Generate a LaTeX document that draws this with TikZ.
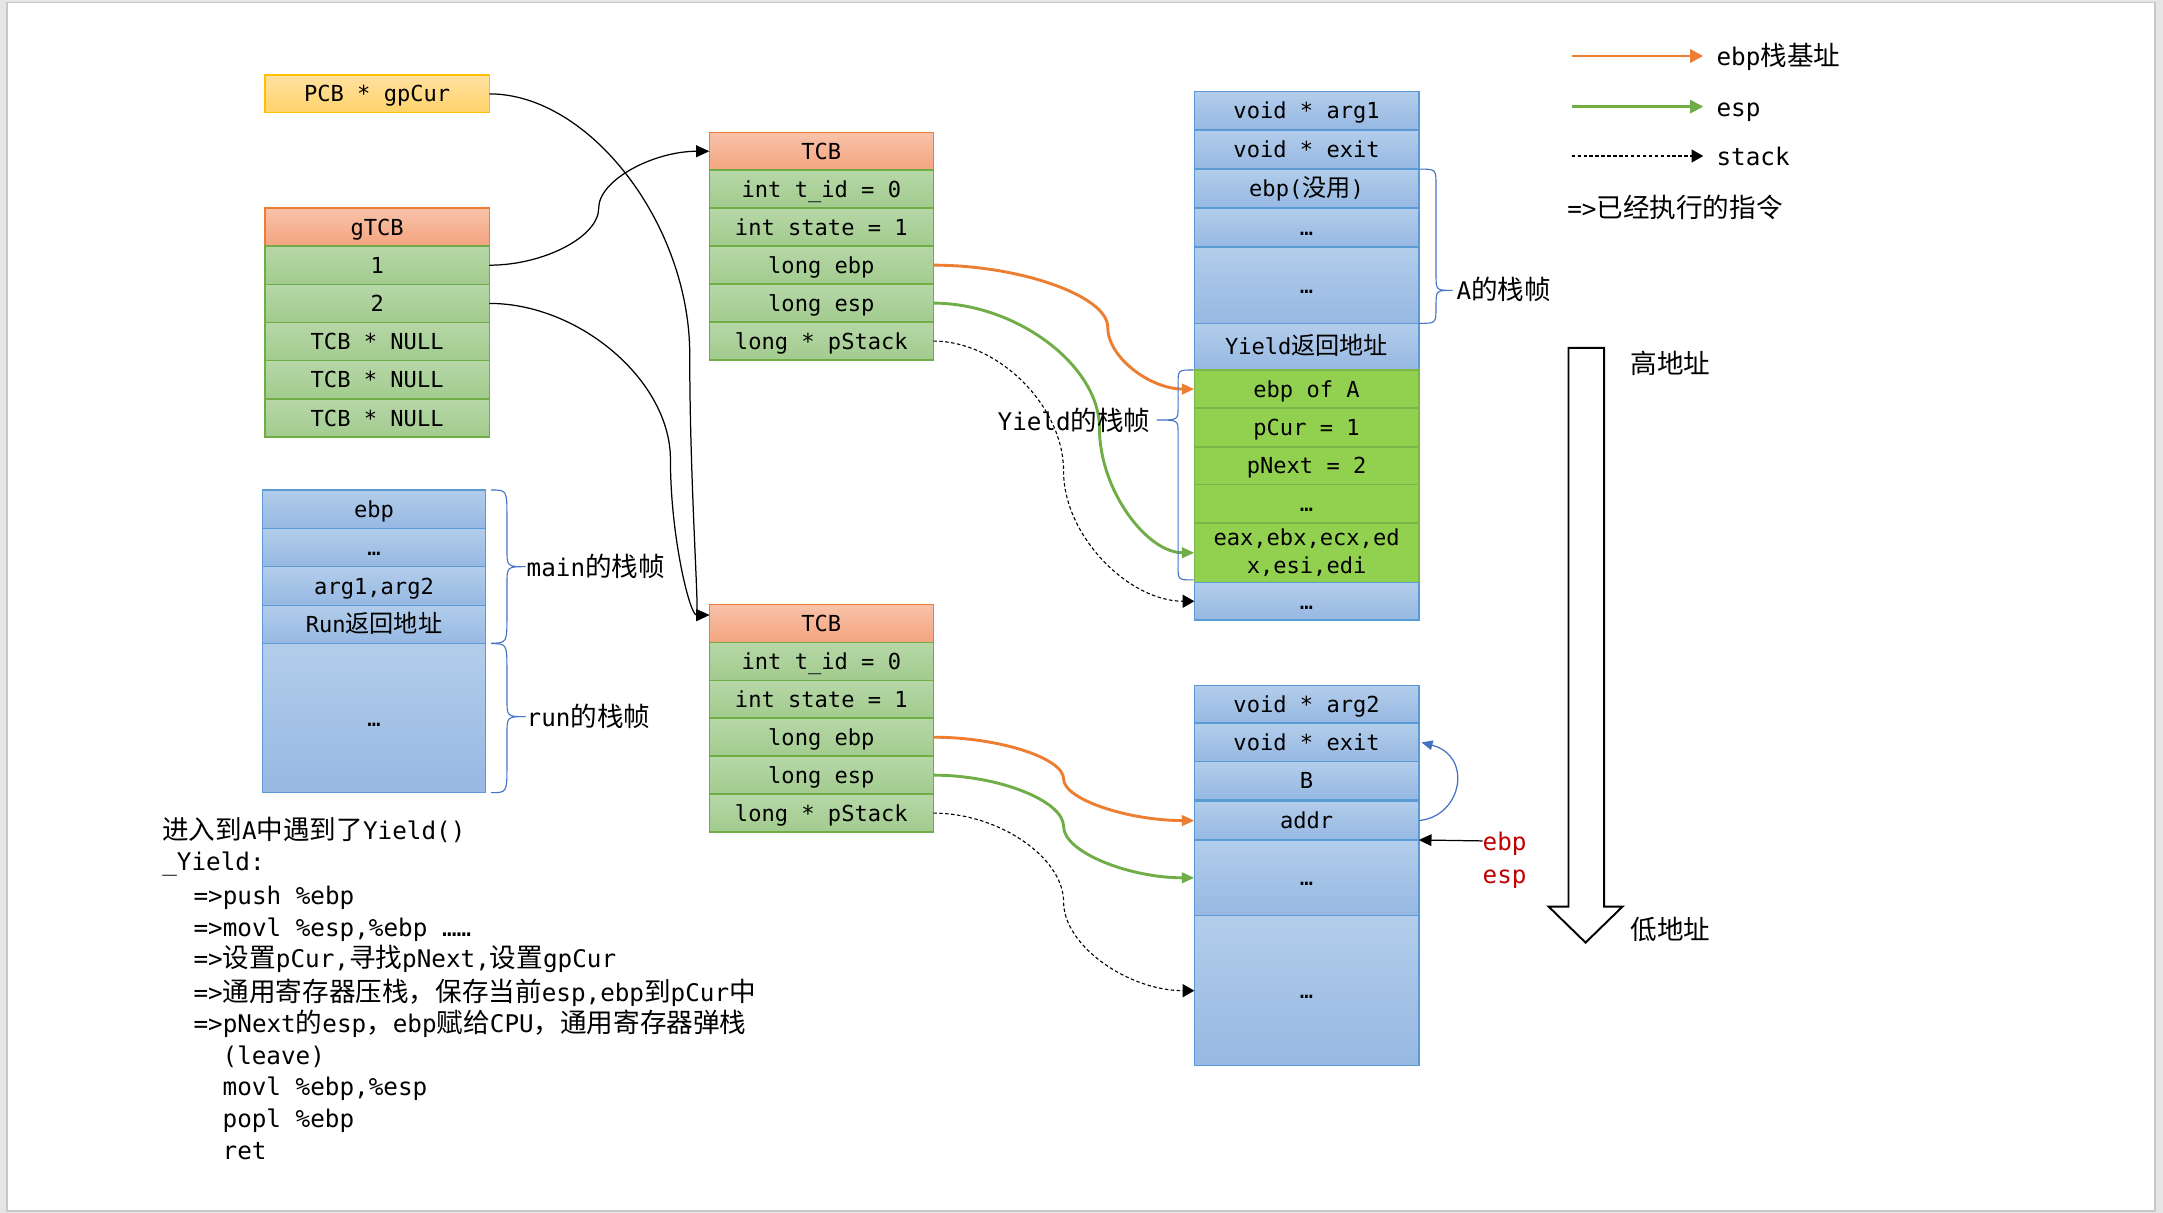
\documentclass[tikz,border=0pt]{standalone}
\usepackage{fontspec}
\setmainfont{DejaVu Sans Mono}
\newfontfamily\cjk[Scale=1.095]{Noto Sans CJK SC}
\newcommand\zh[1]{{\cjk #1}}
\usetikzlibrary{arrows.meta}
\definecolor{pageg}{HTML}{E6E6E6}
\definecolor{pageb}{HTML}{C8C8C8}
\definecolor{bluet}{HTML}{B3CDEB}
\definecolor{blueb}{HTML}{96B8E2}
\definecolor{bluel}{HTML}{5B9BD5}
\definecolor{greent}{HTML}{B6D7A7}
\definecolor{greenb}{HTML}{A2CB8E}
\definecolor{greenl}{HTML}{70AD47}
\definecolor{salt}{HTML}{F8C3AA}
\definecolor{salb}{HTML}{F4A47F}
\definecolor{sall}{HTML}{ED7D31}
\definecolor{yelt}{HTML}{FFE0A0}
\definecolor{yelb}{HTML}{FFD36B}
\definecolor{yell}{HTML}{FFC000}
\definecolor{brightg}{HTML}{92D050}
\definecolor{brightl}{HTML}{7AB648}
\definecolor{orangec}{HTML}{ED7D31}
\definecolor{greenc}{HTML}{70AD47}
\definecolor{bracec}{HTML}{4472C4}
\definecolor{redt}{HTML}{C00000}
\newcommand\mybrace[8]{\draw[bracepath] (#1,#4) .. controls (#2,#4) .. (#2,#4+#7) -- (#2,#5-#8) .. controls (#2,#5) .. (#3,#5) .. controls (#2,#5) .. (#2,#5+#8) -- (#2,#6-#7) .. controls (#2,#6) .. (#1,#6);}
\tikzset{
 boxfont/.style={font=\fontsize{16}{20.7}\selectfont},
 lblfont/.style={font=\fontsize{17.6}{23}\selectfont},
 cellbase/.style={boxfont, inner sep=0pt, outer sep=0pt, anchor=north west, line width=1.1pt, align=center},
 cell/.style={cellbase, text height=11.7pt, text depth=0pt},
 bluecell/.style={cell, draw=bluel, top color=bluet, bottom color=blueb},
 greencell/.style={cell, draw=greenl, top color=greent, bottom color=greenb},
 headcell/.style={cell, draw=sall, top color=salt, bottom color=salb},
 yelcell/.style={cell, draw=yell, top color=yelt, bottom color=yelb},
 brightcell/.style={cell, draw=brightl, fill=brightg},
 gcol/.style={minimum width=162.6pt, minimum height=27.7pt},
 tcol/.style={minimum width=162.4pt, minimum height=27.52pt},
 mcol/.style={minimum width=161.7pt},
 scol/.style={minimum width=162.7pt},
 lbl/.style={lblfont, inner sep=0pt, outer sep=0pt, text height=13.6pt, text depth=0pt, anchor=west},
 ptr/.style={draw=black, line width=0.9pt, -{Triangle[length=9.5pt,width=8.5pt]}},
 ebparrow/.style={draw=orangec, line width=2.1pt, -{Triangle[length=9pt,width=7.5pt]}},
 esparrow/.style={draw=greenc, line width=2.1pt, -{Triangle[length=9pt,width=7.5pt]}},
 stackarrow/.style={draw=black, line width=0.8pt, dash pattern=on 2.5pt off 1.8pt, -{Triangle[length=8.5pt,width=9.5pt]}},
 bluearrow/.style={draw=bracec, line width=0.9pt, -{Triangle[length=8pt,width=7pt]}},
 bracepath/.style={draw=bracec, line width=0.8pt},
}
\begin{document}
\begin{tikzpicture}[x=1pt,y=-1pt]
\useasboundingbox (0,0) rectangle (1568,879.3);
\fill[pageg] (0,0) rectangle (1568,879.3);
\draw[pageb,fill=white,line width=1.2pt] (5.3,1.7) rectangle (1562,877.9);

% PCB * gpCur
\node[yelcell,minimum width=162.6pt,minimum height=27.3pt] (pcb) at (192.1,54.4) {PCB * gpCur};

% gTCB
\node[headcell,gcol] (gh) at (192.1,150.7) {gTCB};
\node[greencell,gcol] (g1) at (192.1,178.4) {1};
\node[greencell,gcol] (g2) at (192.1,206.1) {2};
\node[greencell,gcol] (g3) at (192.1,233.8) {TCB * NULL};
\node[greencell,gcol] (g4) at (192.1,261.5) {TCB * NULL};
\node[greencell,gcol] (g5) at (192.1,289.2) {TCB * NULL};

% TCB 1
\node[headcell,tcol] (t1h) at (514.2,95.9) {TCB};
\node[greencell,tcol] (t1a) at (514.2,123.42) {int t\_id = 0};
\node[greencell,tcol] (t1b) at (514.2,150.94) {int state = 1};
\node[greencell,tcol] (t1c) at (514.2,178.46) {long ebp};
\node[greencell,tcol] (t1d) at (514.2,205.98) {long esp};
\node[greencell,tcol] (t1e) at (514.2,233.5) {long * pStack};

% TCB 2
\node[headcell,tcol] (t2h) at (514.2,438.1) {TCB};
\node[greencell,tcol] (t2a) at (514.2,465.62) {int t\_id = 0};
\node[greencell,tcol] (t2b) at (514.2,493.14) {int state = 1};
\node[greencell,tcol] (t2c) at (514.2,520.66) {long ebp};
\node[greencell,tcol] (t2d) at (514.2,548.18) {long esp};
\node[greencell,tcol] (t2e) at (514.2,575.7) {long * pStack};

% main / run stack
\node[bluecell,mcol,minimum height=27.8pt] (m1) at (190.3,355.2) {ebp};
\node[bluecell,mcol,minimum height=27.8pt] (m2) at (190.3,383) {…};
\node[bluecell,mcol,minimum height=28pt] (m3) at (190.3,410.8) {arg1,arg2};
\node[bluecell,mcol,minimum height=27.6pt] (m4) at (190.3,438.8) {Run\zh{返回地址}};
\node[bluecell,mcol,minimum height=108.2pt] (m5) at (190.3,466.4) {…};

% stack A
\node[bluecell,scol,minimum height=27.9pt] (a1) at (865.8,66.3) {void * arg1};
\node[bluecell,scol,minimum height=28.2pt] (a2) at (865.8,94.2) {void * exit};
\node[bluecell,scol,minimum height=28.5pt] (a3) at (865.8,122.4) {ebp(\zh{没用})};
\node[bluecell,scol,minimum height=28pt] (a4) at (865.8,150.9) {…};
\node[bluecell,scol,minimum height=55.7pt] (a5) at (865.8,178.9) {…};
\node[bluecell,scol,minimum height=33.6pt] (a6) at (865.8,234.6) {Yield\zh{返回地址}};
\node[brightcell,scol,minimum height=27.7pt] (a7) at (865.8,268.2) {ebp of A};
\node[brightcell,scol,minimum height=28pt] (a8) at (865.8,295.9) {pCur = 1};
\node[brightcell,scol,minimum height=27.2pt] (a9) at (865.8,323.9) {pNext = 2};
\node[brightcell,scol,minimum height=28pt] (a10) at (865.8,351.1) {…};
\node[cellbase,draw=brightl,fill=brightg,scol,minimum height=43.2pt] (a11) at (865.8,379.1) {eax,ebx,ecx,ed\\x,esi,edi};
\node[bluecell,scol,minimum height=27.1pt] (a12) at (865.8,422.3) {…};

% stack B
\node[bluecell,scol,minimum height=27.5pt] (b1) at (865.8,496.8) {void * arg2};
\node[bluecell,scol,minimum height=27.8pt] (b2) at (865.8,524.3) {void * exit};
\node[bluecell,scol,minimum height=27.4pt] (b3) at (865.8,552.1) {B};
\node[bluecell,scol,minimum height=28.1pt] (b4) at (865.8,580.8) {addr};
\node[bluecell,scol,minimum height=54.9pt] (b5) at (865.8,608.9) {…};
\node[bluecell,scol,minimum height=108.7pt] (b6) at (865.8,663.8) {…};

% pointers from gpCur / gTCB
\draw[ptr] (g1.east) .. controls (394.35,192.25) and (434,171.6) .. (434,150.95) .. controls (434,130.3) and (474.1,109.65) .. (t1h.west);
\draw[ptr] (g2.east) .. controls (420.35,219.95) and (486,276.4) .. (486,332.9) .. controls (486,389.4) and (500.1,445.9) .. ([yshift=6pt]t2h.west);
\draw[ptr] (pcb.east) .. controls (427.35,68.05) and (500,162.5) .. (500,257) .. controls (500,351.4) and (507.1,445.9) .. ([yshift=6pt]t2h.west);

% TCB 1 -> stack A
\draw[ebparrow] (t1c.east) .. controls (739.8,192.2) and (803,214.7) .. (803,237.1) .. controls (803,259.6) and (834.4,282.05) .. (a7.west);
\draw[esparrow] (t1d.east) .. controls (736.8,219.75) and (797,265) .. (797,310.2) .. controls (797,355.5) and (831.4,400.7) .. (a11.west);
\draw[stackarrow] (t1e.east) .. controls (723.8,247.25) and (771,294.4) .. (771,341.55) .. controls (771,388.7) and (818.4,435.85) .. (a12.west);

% TCB 2 -> stack B
\draw[ebparrow] (t2c.east) .. controls (723.8,534.35) and (771,549.5) .. (771,564.6) .. controls (771,579.7) and (818.4,594.85) .. (b4.west);
\draw[esparrow] (t2d.east) .. controls (723.8,561.85) and (771,580.5) .. (771,599.1) .. controls (771,617.7) and (818.4,636.35) .. (b5.west);
\draw[stackarrow] (t2e.east) .. controls (723.8,589.35) and (771,621.55) .. (771,653.75) .. controls (771,685.95) and (818.4,718.15) .. (b6.west);

% addr -> exit
\draw[bluearrow] (b4.east) .. controls (1060,592) and (1068,548) .. ([xshift=2pt]b2.east);

% braces
\mybrace{356}{367.5}{381}{355.2}{410.8}{466.2}{20}{13}
\mybrace{356}{367.5}{381}{466.6}{519.5}{574.6}{20}{13}
\mybrace{1028.8}{1041}{1053}{122.6}{210.5}{234.4}{12}{11}
\mybrace{865.3}{854}{838.5}{268.2}{304.5}{420.4}{10}{9}

% labels
\node[lbl] (lmain) at (381.8,410.8) {main\zh{的栈帧}};
\node[lbl] (lrun) at (381.8,519.5) {run\zh{的栈帧}};
\node[lbl] (lA) at (1056,210.5) {A\zh{的栈帧}};
\node[lbl,anchor=east] (lY) at (834,305) {Yield\zh{的栈帧}};

% ebp / esp pointer
\node[lbl,text=redt] (lebp) at (1074.8,609.6) {ebp};
\node[lbl,text=redt] (lesp) at (1074.8,633.6) {esp};
\draw[draw=black,line width=0.9pt,-{Triangle[length=9.2pt,width=8.5pt]}] (lebp.west) -- (b5.north east);

% legend
\coordinate (lo1) at (1139.3,40.6);
\coordinate (lo2) at (1234.7,40.6);
\coordinate (lg1) at (1139.3,77.3);
\coordinate (lg2) at (1234.7,77.3);
\coordinate (ls1) at (1139.3,113.1);
\coordinate (ls2) at (1234.7,113.1);
\draw[ebparrow,-{Triangle[length=9.5pt,width=9.5pt]}] (lo1) -- (lo2);
\draw[esparrow,-{Triangle[length=9.5pt,width=9.5pt]}] (lg1) -- (lg2);
\draw[stackarrow] (ls1) -- (ls2);
\node[lbl] (tlo) at (1244.4,40.6) {ebp\zh{栈基址}};
\node[lbl] (tlg) at (1244.4,77.3) {esp};
\node[lbl] (tls) at (1244.4,113.1) {stack};
\node[lbl] (texec) at (1136.2,151) {=>\zh{已经执行的指令}};

% address direction arrow
\draw[black,line width=1.4pt,fill=white,line join=miter] (1137,252.2) -- (1162.8,252.2) -- (1162.8,657.2) -- (1176.2,657.2) -- (1149.4,683.3) -- (1122.6,657.2) -- (1137,657.2) -- cycle;
\node[lbl] (thigh) at (1182,264) {\zh{高地址}};
\node[lbl] (tlow) at (1182,674.6) {\zh{低地址}};

% code
\node[lbl] (c1) at (117.7,601.7) {\zh{进入到}A\zh{中遇到了}Yield()};
\node[lbl] (c2) at (117.7,624.6) {\_Yield:};
\node[lbl] (c3) at (140.3,648.8) {=>push \%ebp};
\node[lbl] (c4) at (140.3,671.8) {=>movl \%esp,\%ebp ……};
\node[lbl] (c5) at (140.3,694.7) {=>\zh{设置}pCur,\zh{寻找}pNext,\zh{设置}gpCur};
\node[lbl] (c6) at (140.3,718.9) {=>\zh{通用寄存器压栈，保存当前}esp,ebp\zh{到}pCur\zh{中}};
\node[lbl] (c7) at (140.3,741.8) {=>pNext\zh{的}esp\zh{，}ebp\zh{赋给}CPU\zh{，通用寄存器弹栈}};
\node[lbl] (c8) at (161.4,764.8) {(leave)};
\node[lbl] (c9) at (161.4,787.7) {movl \%ebp,\%esp};
\node[lbl] (c10) at (161.4,810.7) {popl \%ebp};
\node[lbl] (c11) at (161.4,833.6) {ret};
\end{tikzpicture}
\end{document}
